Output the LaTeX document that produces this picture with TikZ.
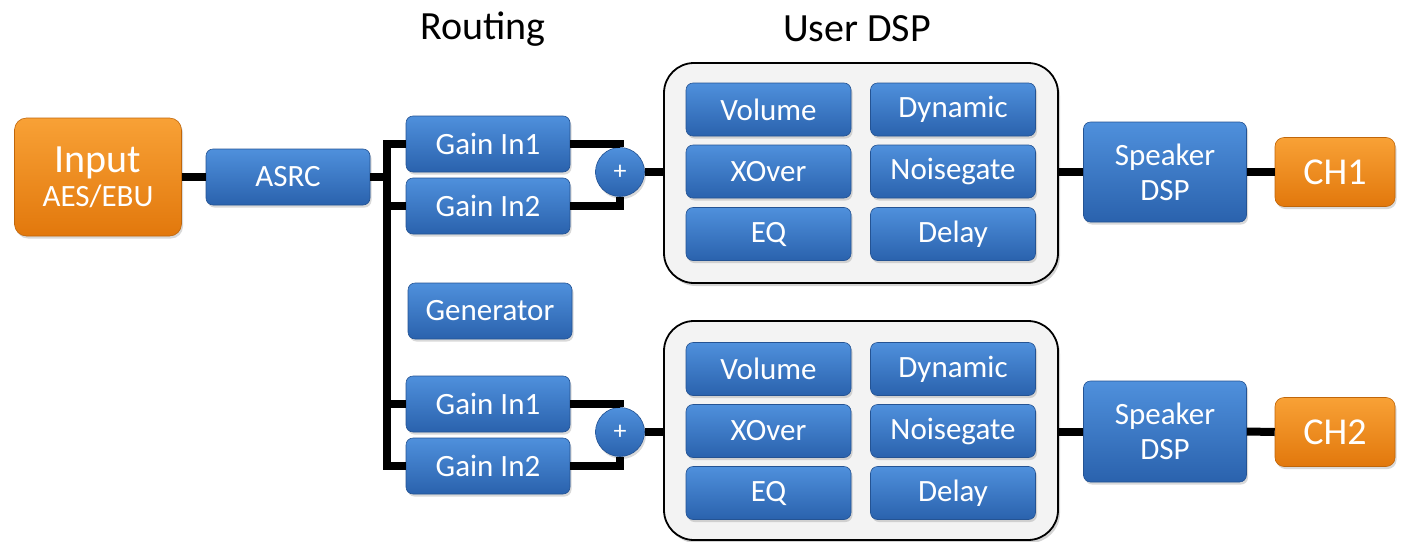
\documentclass[tikz,border=0pt]{standalone}
\usepackage{fontspec}
\setmainfont{Carlito}
\usetikzlibrary{calc,positioning,shadows}

\definecolor{blueTop}{HTML}{4F90DC}
\definecolor{blueBot}{HTML}{2A62AD}
\definecolor{orangeTop}{HTML}{F8A136}
\definecolor{orangeBot}{HTML}{E2780C}
\definecolor{panelGray}{HTML}{F3F3F3}

\tikzset{
  blk/.style={rounded corners=7pt, top color=blueTop, bottom color=blueBot,
    draw=blueBot!85!black, line width=0.6pt, text=white, align=center,
    font=\fontsize{31}{35}\selectfont, inner sep=0pt,
    minimum width=164pt, minimum height=56pt,
    drop shadow={shadow xshift=1.5pt, shadow yshift=-2.5pt, opacity=0.3}},
  inblk/.style={blk, minimum width=165pt, minimum height=53pt},
  outblk/.style={blk, rounded corners=12pt, top color=orangeTop, bottom color=orangeBot,
    draw=orangeBot!85!black},
  panel/.style={rounded corners=30pt, draw=black, line width=1.8pt, fill=panelGray,
    minimum width=394pt, minimum height=220pt, inner sep=0pt,
    drop shadow={shadow xshift=2pt, shadow yshift=-3pt, opacity=0.35}},
  sum/.style={circle, top color=blueTop, bottom color=blueBot, draw=blueBot!85!black,
    line width=0.6pt, text=white, minimum size=49pt, inner sep=0pt,
    font=\fontsize{26}{26}\selectfont,
    drop shadow={shadow xshift=1.5pt, shadow yshift=-2.5pt, opacity=0.3}},
  wire/.style={line width=8pt, black},
  title/.style={font=\fontsize{40}{42}\selectfont}
}

\begin{document}
\begin{tikzpicture}[x=1pt, y=-1pt]
        \useasboundingbox (0,0) rectangle (1404,541);

        \node[title] (routing) at (483,29) {Routing};
        \node[title] (userdsp) at (857,29) {User DSP};

        \node[outblk, minimum width=167pt, minimum height=118pt] (in) at (98,177)
            {{\fontsize{40}{40}\selectfont Input}\\[-1pt]AES/EBU};
        \node[blk, minimum height=56pt] (asrc) at (288,177) {ASRC};

        \node[blk] (gaina1) at (488,144) {Gain In1};
        \node[blk] (gaina2) at (488,206) {Gain In2};
        \node[blk] (gen) at (490,311) {Generator};
        \node[blk] (gainb1) at (488,404) {Gain In1};
        \node[blk] (gainb2) at (488,466) {Gain In2};

        \node[sum] (sum1) at (620,172) {+};
        \node[sum] (sum2) at (620,432) {+};

        % user dsp panels
        \node[panel] (dsp1) at (861,173) {};
        \node[panel, minimum height=219pt] (dsp2) at (861,430.5) {};

        \node[inblk] (vol1) at (768.5,109.5) {Volume};
        \node[inblk] (dyn1) at (953,109.5) {Dynamic};
        \node[inblk] (xov1) at (768.5,171.5) {XOver};
        \node[inblk] (ng1) at (953,171.5) {Noisegate};
        \node[inblk] (eq1) at (768.5,234) {EQ};
        \node[inblk] (del1) at (953,234) {Delay};

        \node[inblk] (vol2) at (768.5,369) {Volume};
        \node[inblk] (dyn2) at (953,369) {Dynamic};
        \node[inblk] (xov2) at (768.5,431) {XOver};
        \node[inblk] (ng2) at (953,431) {Noisegate};
        \node[inblk] (eq2) at (768.5,493) {EQ};
        \node[inblk] (del2) at (953,493) {Delay};

        \node[blk, minimum width=163pt, minimum height=100pt] (spk1) at (1165,172) {Speaker\\DSP};
        \node[blk, minimum width=163pt, minimum height=101pt] (spk2) at (1165,431.5) {Speaker\\DSP};

        \node[outblk, rounded corners=9pt, minimum width=120pt, minimum height=69pt,
            font=\fontsize{38}{40}\selectfont] (ch1) at (1335,172) {CH1};
        \node[outblk, rounded corners=9pt, minimum width=120pt, minimum height=69pt,
            font=\fontsize{38}{40}\selectfont] (ch2) at (1335,432) {CH2};

        % routing bus
        \coordinate (bustop) at (387,144);
        \coordinate (busbot) at (387,466);
        \draw[wire] (in.east) -- (asrc.west);
        \draw[wire] (gaina1.west) -- (bustop) -- (busbot) -- (gainb2.west);
        \draw[wire] (asrc.east) -- (asrc.east -| bustop);
        \draw[wire] (gaina2.west) -- (gaina2.west -| bustop);
        \draw[wire] (gainb1.west) -- (gainb1.west -| bustop);

        \draw[wire] (gaina1.east) -| (sum1.north);
        \draw[wire] (gaina2.east) -| (sum1.south);
        \draw[wire] (gainb1.east) -| (sum2.north);
        \draw[wire] (gainb2.east) -| (sum2.south);

        \draw[wire] (sum1.east) -- (sum1.east -| dsp1.west);
        \draw[wire] (sum2.east) -- (sum2.east -| dsp2.west);
        \draw[wire] (spk1.west -| dsp1.east) -- (spk1.west);
        \draw[wire] (spk2.west -| dsp2.east) -- (spk2.west);
        \draw[wire] (spk1.east) -- (ch1.west);
        \draw[wire] (spk2.east) -- (ch2.west);
    \end{tikzpicture}
\end{document}
